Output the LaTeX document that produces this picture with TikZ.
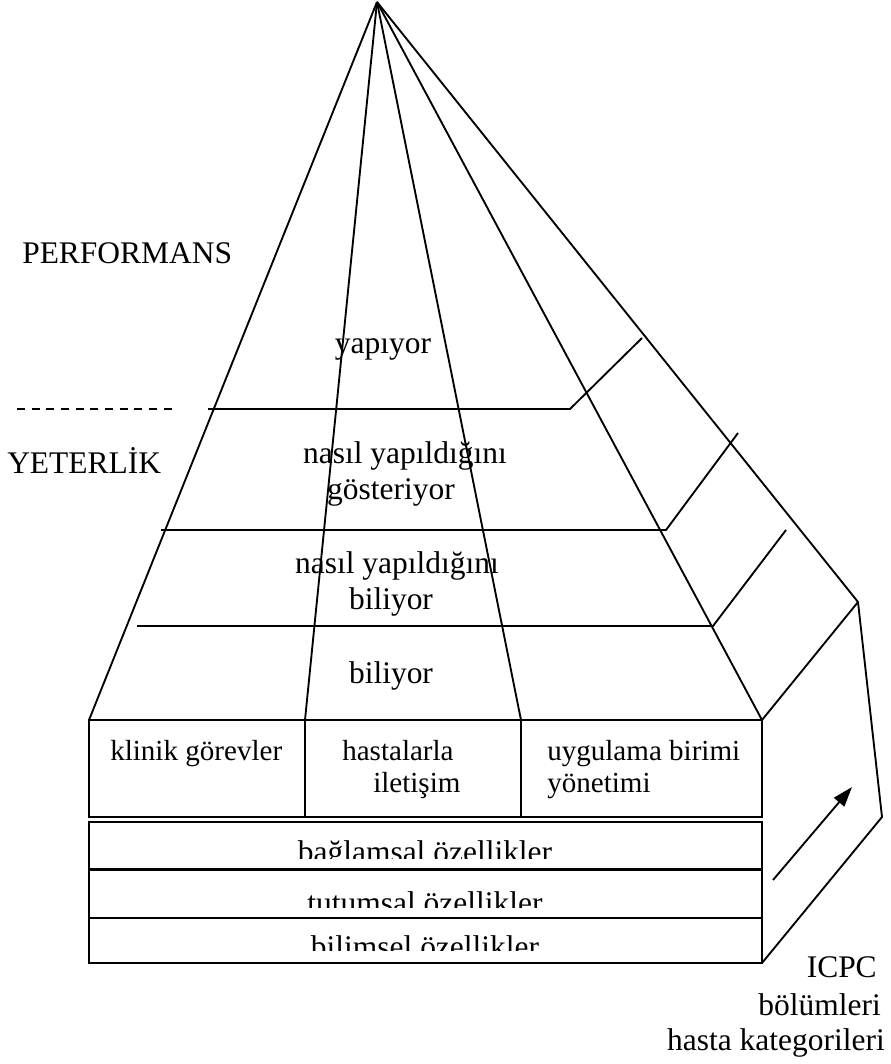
\documentclass[tikz,border=0pt]{standalone}
\usepackage{fontspec}
\setmainfont{Liberation Serif}
\usepackage{tikz}
\usetikzlibrary{arrows.meta}

\tikzset{
  edge/.style={line width=1.4pt},
  lbl/.style={font=\fontsize{23.6}{28}\selectfont, inner sep=0pt, anchor=base},
  boxlbl/.style={font=\fontsize{21.8}{26}\selectfont, inner sep=0pt, anchor=base west},
}

\begin{document}
\begin{tikzpicture}[x=0.75pt,y=0.75pt,yscale=-1,xscale=1]
\path [use as bounding box] (0,0) rectangle (891,1064);

% Corners
\coordinate (apex) at (377,2);
\coordinate (fl) at (89,720);
\coordinate (m1) at (305,720);
\coordinate (m2) at (521,720);
\coordinate (fr) at (762,720);
\coordinate (bk) at (858,602);
\coordinate (bkb) at (882,817);
\coordinate (br) at (762,963);

%Shape: Pyramid edges
\draw [edge] (apex) -- (fl) ;
\draw [edge] (apex) -- (m1) ;
\draw [edge] (apex) -- (m2) ;
\draw [edge] (apex) -- (fr) ;
\draw [edge] (apex) -- (bk) -- (bkb) -- (br) ;
\draw [edge] (fr) -- (bk) ;

%Shape: Levels
\draw [edge] (208,409) -- (570,409) -- (642,338) ;
\draw [edge] (161,530) -- (666,530) -- (738,433) ;
\draw [edge] (137,626) -- (713,626) -- (786,530) ;
\draw [edge, dash pattern=on 6pt off 5pt] (17,409) -- (178,409) ;

%Shape: Front boxes
\draw [edge] (fl) rectangle (762,817) ;
\draw [edge] (m1) -- (305,817) ;
\draw [edge] (m2) -- (521,817) ;
\draw [edge] (89,822) rectangle (762,869) ;
\draw [edge] (89,870) rectangle (762,918) ;
\draw [edge] (89,918) rectangle (br) ;

%Shape: Arrow
\coordinate (ar1) at (773,880);
\coordinate (ar2) at (852,787);
\draw [edge, -{Triangle[length=15pt,width=10pt]}] (ar1) -- (ar2) ;

% Text Node
\node [lbl, anchor=base west] (perf) at (22,263) {PERFORMANS};
% Text Node
\node [lbl, anchor=base west] (yet) at (7,473) {YETERLİK};
% Text Node
\node [lbl] (does) at (383,353) {yapıyor};
% Text Node
\node [lbl] (shows1) at (405,463) {nasıl yapıldığını};
\node [lbl] (shows2) at (391,499) {gösteriyor};
% Text Node
\node [lbl] (knowshow1) at (397,573) {nasıl yapıldığını};
\node [lbl] (knowshow2) at (391,609) {biliyor};
% Text Node
\node [lbl] (knows) at (391,683) {biliyor};

% Text Node
\node [boxlbl] (clin) at (110,760) {klinik görevler};
\node [boxlbl] (comm1) at (342,760) {hastalarla};
\node [boxlbl] (comm2) at (373,792) {iletişim};
\node [boxlbl] (mgmt1) at (547,760) {uygulama birimi};
\node [boxlbl] (mgmt2) at (547,792) {yönetimi};

% Text Node
\begin{scope}
\clip (89,822) rectangle (762,858);
\node [lbl] (ctx) at (425,862) {bağlamsal özellikler};
\end{scope}
\begin{scope}
\clip (89,871) rectangle (762,907);
\node [lbl] (att) at (425,913) {tutumsal özellikler};
\end{scope}
\begin{scope}
\clip (89,918) rectangle (762,950);
\node [lbl] (sci) at (425,957) {bilimsel özellikler};
\end{scope}

% Text Node
\node [lbl, anchor=base east] (icpc1) at (877,977) {ICPC};
\node [lbl, anchor=base east] (icpc2) at (881,1015) {bölümleri};
\node [lbl, anchor=base east] (icpc3) at (885,1050) {hasta kategorileri};

\end{tikzpicture}
\end{document}
